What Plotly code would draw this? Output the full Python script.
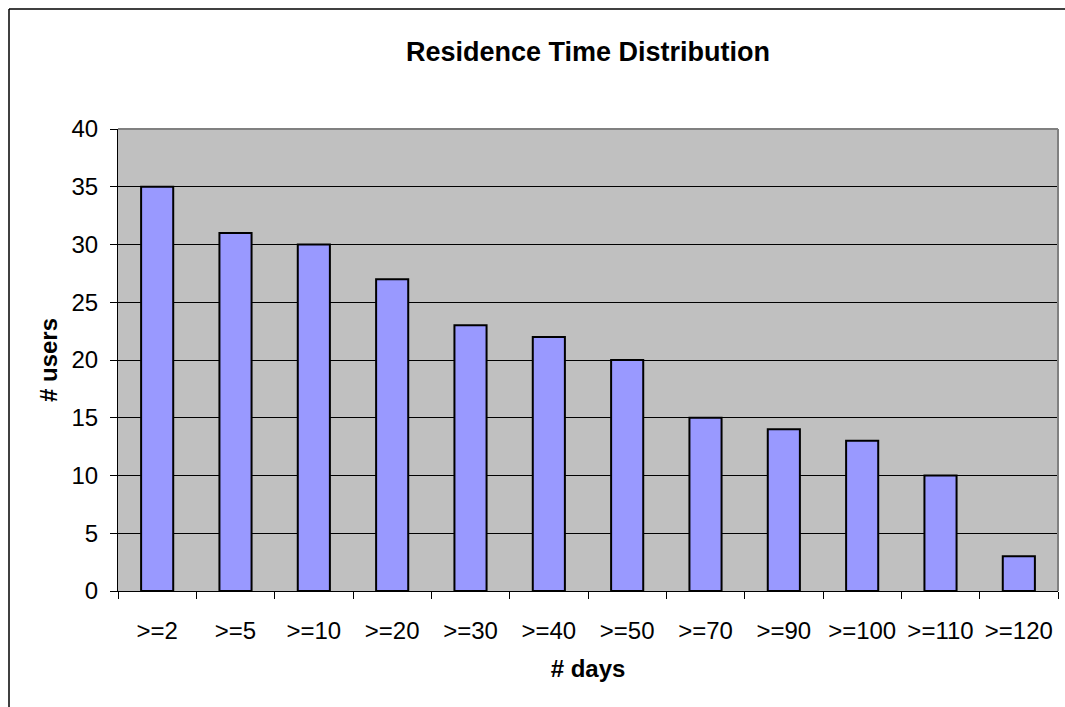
import plotly.graph_objects as go

categories = [">=2", ">=5", ">=10", ">=20", ">=30", ">=40", ">=50", ">=70", ">=90", ">=100", ">=110", ">=120"]
users = [35, 31, 30, 27, 23, 22, 20, 15, 14, 13, 10, 3]
y_ticks = [0, 5, 10, 15, 20, 25, 30, 35, 40]

FONT = "Liberation Sans, Arial, sans-serif"

fig = go.Figure(go.Bar(
    x=categories, y=users,
    marker=dict(color="#9999FF", line=dict(color="black", width=2)),
    width=0.41,
))

W, H = 1065, 707
L, R, T, B = 118, 7, 129, 116
pw, ph = W - L - R, H - T - B

def px(x):
    return (x - L) / pw

def py(y):
    return (H - B - y) / ph

fig.update_layout(
    width=W, height=H,
    margin=dict(l=L, r=R, t=T, b=B),
    paper_bgcolor="white",
    plot_bgcolor="#C0C0C0",
    showlegend=False,
    title=dict(text="<b>Residence Time Distribution</b>", x=(L + pw / 2) / W, xanchor="center",
               y=1 - 52 / H, yanchor="middle",
               font=dict(family=FONT, size=27, color="black")),
    font=dict(family=FONT, color="black"),
    xaxis=dict(
        type="category", tickson="boundaries", ticks="outside", ticklen=7,
        tickcolor="black", showline=True, linecolor="black", linewidth=1,
        showgrid=False, tickfont=dict(size=24), ticklabelstandoff=18,
        title=dict(text="<b># days</b>", font=dict(size=24), standoff=17),
    ),
    yaxis=dict(
        range=[0, 40], tickvals=y_ticks, ticks="outside", ticklen=7,
        tickcolor="black", showline=True, linecolor="black", linewidth=1,
        showgrid=True, gridcolor="black", gridwidth=1, zeroline=False,
        tickfont=dict(size=24), ticklabelstandoff=7,
        title=dict(text="<b># users</b>", font=dict(size=24), standoff=7),
    ),
    shapes=[
        dict(type="line", xref="paper", yref="paper", x0=0, x1=1, y0=1, y1=1,
             line=dict(color="#808080", width=2), layer="above"),
        dict(type="line", xref="paper", yref="paper", x0=1, x1=1, y0=0, y1=1,
             line=dict(color="#808080", width=2), layer="above"),
        # outer chart frame (left and top edges visible)
        dict(type="line", xref="paper", yref="paper",
             x0=px(9), x1=px(9), y0=py(9), y1=py(H),
             line=dict(color="black", width=1.5), layer="below"),
        dict(type="line", xref="paper", yref="paper",
             x0=px(9), x1=px(W), y0=py(9), y1=py(9),
             line=dict(color="black", width=1.5), layer="below"),
    ],
)

fig.write_html(
    "out.html",
    config={"displayModeBar": False},
    post_script="document.body.style.margin='0';document.body.style.overflow='hidden';",
)
